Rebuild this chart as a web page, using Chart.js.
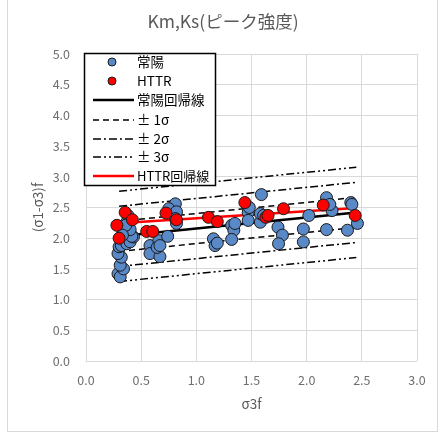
<!DOCTYPE html>
<html><head><meta charset="utf-8">
<script src="https://cdn.jsdelivr.net/npm/chart.js@4/dist/chart.umd.min.js"></script>
<style>html,body{margin:0;padding:0;background:#fff}canvas{display:block}</style>
</head><body>
<canvas id="c" width="444" height="439"></canvas>
<script>
const chartTitle = 'Km,Ks(ピーク強度)';
const xTitle = 'σ3f';
const yTitle = '(σ1-σ3)f';
const xTicks = [0, 0.5, 1.0, 1.5, 2.0, 2.5, 3.0];
const yTicks = [0, 0.5, 1.0, 1.5, 2.0, 2.5, 3.0, 3.5, 4.0, 4.5, 5.0];

// 常陽 (blue)
const jyoyoX = [0.29,0.31,0.34,0.31,0.32,0.29,0.30,0.32,0.37,0.40,0.43,0.415,0.34,0.40,0.37,0.38,0.36,0.33,
  0.58,0.58,0.67,0.66,0.645,0.67,0.74,0.79,0.81,0.75,0.82,0.82,0.81,
  1.155,1.17,1.19,1.32,1.34,1.32,1.35,
  1.47,1.47,1.58,1.59,1.58,1.61,1.74,1.78,1.745,1.97,1.97,2.02,1.48,
  2.18,2.23,2.21,2.18,2.37,2.40,2.41,2.46];
const jyoyoY = [1.42,1.37,1.50,1.56,1.69,1.75,1.86,1.88,1.91,1.94,2.02,2.03,2.13,2.14,2.26,2.37,2.21,2.05,
  1.88,1.75,1.70,1.96,1.85,1.88,2.03,2.50,2.56,2.48,2.43,2.24,2.32,
  1.99,1.88,1.92,2.21,2.13,1.98,2.24,
  2.42,2.29,2.26,2.71,2.40,2.37,2.18,2.05,1.91,2.15,1.94,2.37,2.50,
  2.66,2.45,2.55,2.14,2.13,2.58,2.55,2.24];

// HTTR (red)
const httrX = [0.28,0.30,0.355,0.42,0.55,0.605,0.725,0.82,1.11,1.19,1.44,1.63,1.65,1.79,2.15,2.44];
const httrY = [2.21,2.00,2.42,2.30,2.11,2.11,2.41,2.30,2.34,2.27,2.58,2.34,2.37,2.48,2.54,2.37];

// regression and sigma lines (endpoints)
const lineX = [0.30, 2.45];
const jyoyoFitY = [2.03, 2.42];
const httrFitY = [2.245, 2.49];
const plus1Y = [2.275, 2.665];
const minus1Y = [1.785, 2.175];
const plus2Y = [2.52, 2.91];
const minus2Y = [1.54, 1.93];
const plus3Y = [2.765, 3.155];
const minus3Y = [1.295, 1.685];

const legendLabels = ['常陽', 'HTTR', '常陽回帰線', '± 1σ', '± 2σ', '± 3σ', 'HTTR回帰線'];

const pts = (xs, ys) => xs.map((x, i) => ({x: x, y: ys[i]}));
const BLUE = '#5a89c8';
const RED = '#ff0000';
const DASH1 = [6, 4];
const DASH2 = [8, 3, 2, 3];
const DASH3 = [8, 3, 2, 3, 2, 3];
const CJK = '"Noto Sans CJK JP", "Noto Sans", sans-serif';

function lineDs(label, ys, color, width, dash) {
  return {label: label, data: pts(lineX, ys), showLine: true, borderColor: color, backgroundColor: color,
    borderWidth: width, borderDash: dash, pointRadius: 0, order: 2, fill: false};
}

const frame = {
  id: 'frame',
  beforeDraw(chart) {
    const c = chart.ctx;
    c.save();
    c.fillStyle = '#fff';
    c.fillRect(0, 0, chart.width, chart.height);
    c.strokeStyle = '#d9d9d9';
    c.lineWidth = 1;
    c.strokeRect(7.5, -1, 430, 432.5);
    c.fillStyle = '#595959';
    c.font = '17.5px ' + CJK;
    c.textAlign = 'center';
    c.textBaseline = 'middle';
    c.fillText(chartTitle, 223, 21);
    c.restore();
  },
  afterDatasetsDraw(chart) {
    const c = chart.ctx;
    c.save();
    const bx = 84.5, by = 53.5, bw = 131, bh = 132;
    c.fillStyle = '#fff';
    c.fillRect(bx, by, bw, bh);
    c.strokeStyle = '#000';
    c.lineWidth = 1.5;
    c.strokeRect(bx, by, bw, bh);
    const ys = [62, 81, 100, 120, 139, 157, 176];
    const styles = [
      {marker: BLUE}, {marker: RED},
      {color: '#000', w: 2.5, dash: []},
      {color: '#000', w: 1.5, dash: DASH1},
      {color: '#000', w: 1.5, dash: DASH2},
      {color: '#000', w: 1.5, dash: DASH3},
      {color: RED, w: 2.5, dash: []}
    ];
    c.textBaseline = 'middle';
    c.textAlign = 'left';
    legendLabels.forEach((lab, i) => {
      const y = ys[i], s = styles[i];
      if (s.marker) {
        c.beginPath();
        c.arc(112, y, 4, 0, Math.PI * 2);
        c.fillStyle = s.marker;
        c.fill();
        c.lineWidth = 1;
        c.strokeStyle = '#1a1a1a';
        c.setLineDash([]);
        c.stroke();
      } else {
        c.beginPath();
        c.moveTo(93, y);
        c.lineTo(134, y);
        c.strokeStyle = s.color;
        c.lineWidth = s.w;
        c.setLineDash(s.dash);
        c.stroke();
        c.setLineDash([]);
      }
      c.fillStyle = '#000';
      c.font = (lab === 'HTTR回帰線' ? '13px ' : '13.5px ') + CJK;
      c.fillText(lab, 137, y);
    });
    c.restore();
  }
};

new Chart(document.getElementById('c'), {
  type: 'scatter',
  data: {
    datasets: [
      {label: 'HTTR', data: pts(httrX, httrY), backgroundColor: RED, borderColor: '#1a1a1a', borderWidth: 1, pointRadius: 6, order: 0},
      {label: '常陽', data: pts(jyoyoX, jyoyoY), backgroundColor: BLUE, borderColor: '#1a1a1a', borderWidth: 1, pointRadius: 6, order: 1},
      lineDs('常陽回帰線', jyoyoFitY, '#000', 2.5, []),
      lineDs('HTTR回帰線', httrFitY, RED, 2.5, []),
      lineDs('+1σ', plus1Y, '#000', 1.5, DASH1),
      lineDs('-1σ', minus1Y, '#000', 1.5, DASH1),
      lineDs('+2σ', plus2Y, '#000', 1.5, DASH2),
      lineDs('-2σ', minus2Y, '#000', 1.5, DASH2),
      lineDs('+3σ', plus3Y, '#000', 1.5, DASH3),
      lineDs('-3σ', minus3Y, '#000', 1.5, DASH3)
    ]
  },
  options: {
    responsive: false,
    animation: false,
    layout: {padding: {left: 0, right: 27, top: 54, bottom: 0}},
    plugins: {legend: {display: false}, title: {display: false}, tooltip: {enabled: false}},
    scales: {
      x: {
        type: 'linear', min: 0, max: 3,
        afterBuildTicks: s => { s.ticks = xTicks.map(v => ({value: v})); },
        afterFit: s => { s.height = 78; },
        grid: {color: '#d9d9d9', drawTicks: false},
        border: {display: false},
        ticks: {padding: 12, color: '#6e6e6e', font: {size: 12.5, family: CJK}, callback: v => v.toFixed(1), maxRotation: 0},
        title: {display: true, text: xTitle, color: '#595959', font: {size: 13.5, family: CJK}, padding: {top: 0, bottom: 27}}
      },
      y: {
        type: 'linear', min: 0, max: 5,
        afterBuildTicks: s => { s.ticks = yTicks.map(v => ({value: v})); },
        afterFit: s => { s.width = 86; },
        grid: {color: '#d9d9d9', drawTicks: false},
        border: {display: false},
        ticks: {padding: 16, color: '#6e6e6e', font: {size: 12.5, family: CJK}, callback: v => v.toFixed(1)},
        title: {display: true, text: yTitle, color: '#595959', font: {size: 13.5, family: CJK}, padding: {top: 30, bottom: 0}}
      }
    }
  },
  plugins: [frame]
});
</script>
</body></html>
